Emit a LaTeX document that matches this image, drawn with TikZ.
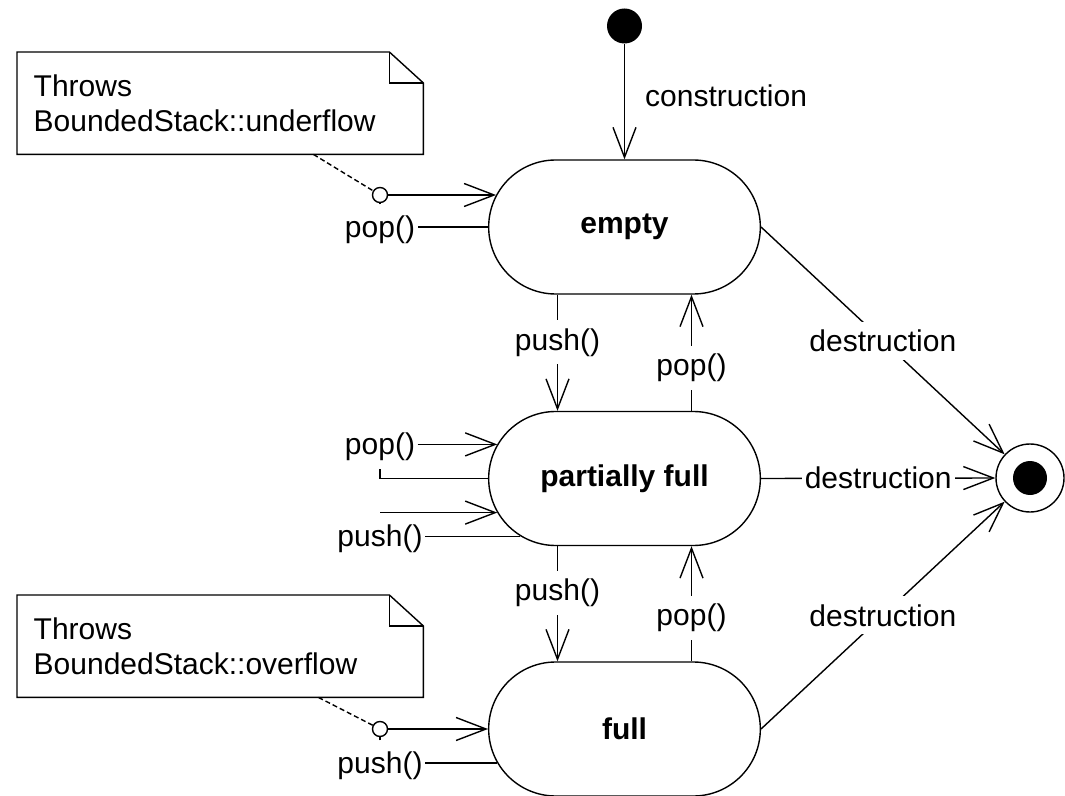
\documentclass[tikz,border=0pt]{standalone}
\usepackage{fontspec}
\setmainfont{Liberation Sans}
\usetikzlibrary{arrows.meta,shapes.misc,positioning}

\tikzset{
	state/.style={rounded rectangle, draw, minimum width=142.5pt, minimum height=67pt, font=\fontsize{15}{17.5}\selectfont\bfseries},
	trans/.style={-{Straight Barb[length=15pt,width=11.5pt]}},
	lbl/.style={fill=white, inner xsep=1.5pt, inner ysep=4pt},
	loopl/.style={inner sep=1pt},
	note/.style={minimum width=202.5pt, minimum height=50.5pt, text width=186.5pt, inner sep=8pt, align=left, anchor=north west},
	dot/.style={circle, fill=black, inner sep=0pt},
	hole/.style={circle, draw, fill=white, inner sep=0pt, minimum size=7.5pt},
}

\begin{document}
\begin{tikzpicture}[x=0.5pt, y=-0.5pt, line width=0.7pt, font=\fontsize{15}{17.5}\selectfont]
		\useasboundingbox (0,0) rectangle (1065,796);
		% States of the stack
		\node[state] (empty) at (624.5,227) {empty};
		\node[state] (partial) at (624.5,478.5) {partially full};
		\node[state] (full) at (624.5,729) {full};
		% Pseudo states
		\node[dot, minimum size=17.5pt] (init) at (624.5,26) {};
		\node[circle, draw, minimum size=34pt, inner sep=0pt] (fin) at (1030,478) {};
		\node[dot, minimum size=17pt] (findot) at (fin) {};
		% Notes with a folded corner
		\node[note] (unote) at (17,52) {Throws\\BoundedStack::underflow};
		\node[note] (onote) at (17,595) {Throws\\BoundedStack::overflow};
		\foreach \n in {unote,onote} {
			\draw (\n.south west) -- (\n.north west) -- ([xshift=-17pt]\n.north east)
				-- ([yshift=-15.5pt]\n.north east) -- (\n.south east) -- cycle;
			\draw ([xshift=-17pt]\n.north east) |- ([yshift=-15.5pt]\n.north east);
		}
		% Construction and destruction
		\draw[trans] (init) -- node[right=8.5pt, pos=0.45, inner sep=1.5pt] {construction} (empty.north);
		\draw[trans] (empty.east) -- node[lbl] {destruction} (fin.137);
		\draw[trans] (partial.east) -- node[lbl] {destruction} (fin.west);
		\draw[trans] (full.east) -- node[lbl] {destruction} (fin.223);
		% push() and pop() between the states
		\draw[trans] ([xshift=-33.5pt]empty.south) -- node[lbl, pos=0.41] {push()} ([xshift=-33.5pt]partial.north);
		\draw[trans] ([xshift=33.5pt]partial.north) -- node[lbl, pos=0.37] {pop()} ([xshift=33.5pt]empty.south);
		\draw[trans] ([xshift=-33.5pt]partial.south) -- node[lbl, pos=0.405] {push()} ([xshift=-33.5pt]full.north);
		\draw[trans] ([xshift=33.5pt]full.north) -- node[lbl, pos=0.38] {pop()} ([xshift=33.5pt]partial.south);
		% Self transitions of empty
		\node[loopl] (epop) at (380,230) {pop()};
		\node[hole] (uf) at (380,195) {};
		\draw (empty.west) -- (empty.west -| epop.east);
		\draw[shorten <=4.5pt] (epop) -- (uf);
		\draw[trans] (uf) -- (uf -| empty.166);
		\draw[dash pattern=on 2.5pt off 1.5pt] ([xshift=-55pt]unote.south east) -- (uf);
		% Self transitions of partially full
		\node[loopl] (ppop) at (380,447) {pop()};
		\node[loopl] (ppush) at (380,539) {push()};
		\draw[shorten >=2.5pt] (partial.west) -| (ppop.south);
		\draw[trans] (ppop.east |- partial.165) -- (partial.165);
		\draw[trans] (ppush.north |- partial.195) -- (partial.195);
		\draw (partial.209) -- (partial.209 -| ppush.east);
		% Self transitions of full
		\node[hole] (of) at (380,729) {};
		\node[loopl] (fpush) at (380,766) {push()};
		\draw[trans] (of) -- (full.west);
		\draw (full.195) -- (full.195 -| fpush.east);
		\draw[shorten <=4.5pt] (fpush) -- (of);
		\draw[dash pattern=on 2.5pt off 1.5pt] ([xshift=-52.5pt]onote.south east) -- (of);
\end{tikzpicture}
\end{document}
